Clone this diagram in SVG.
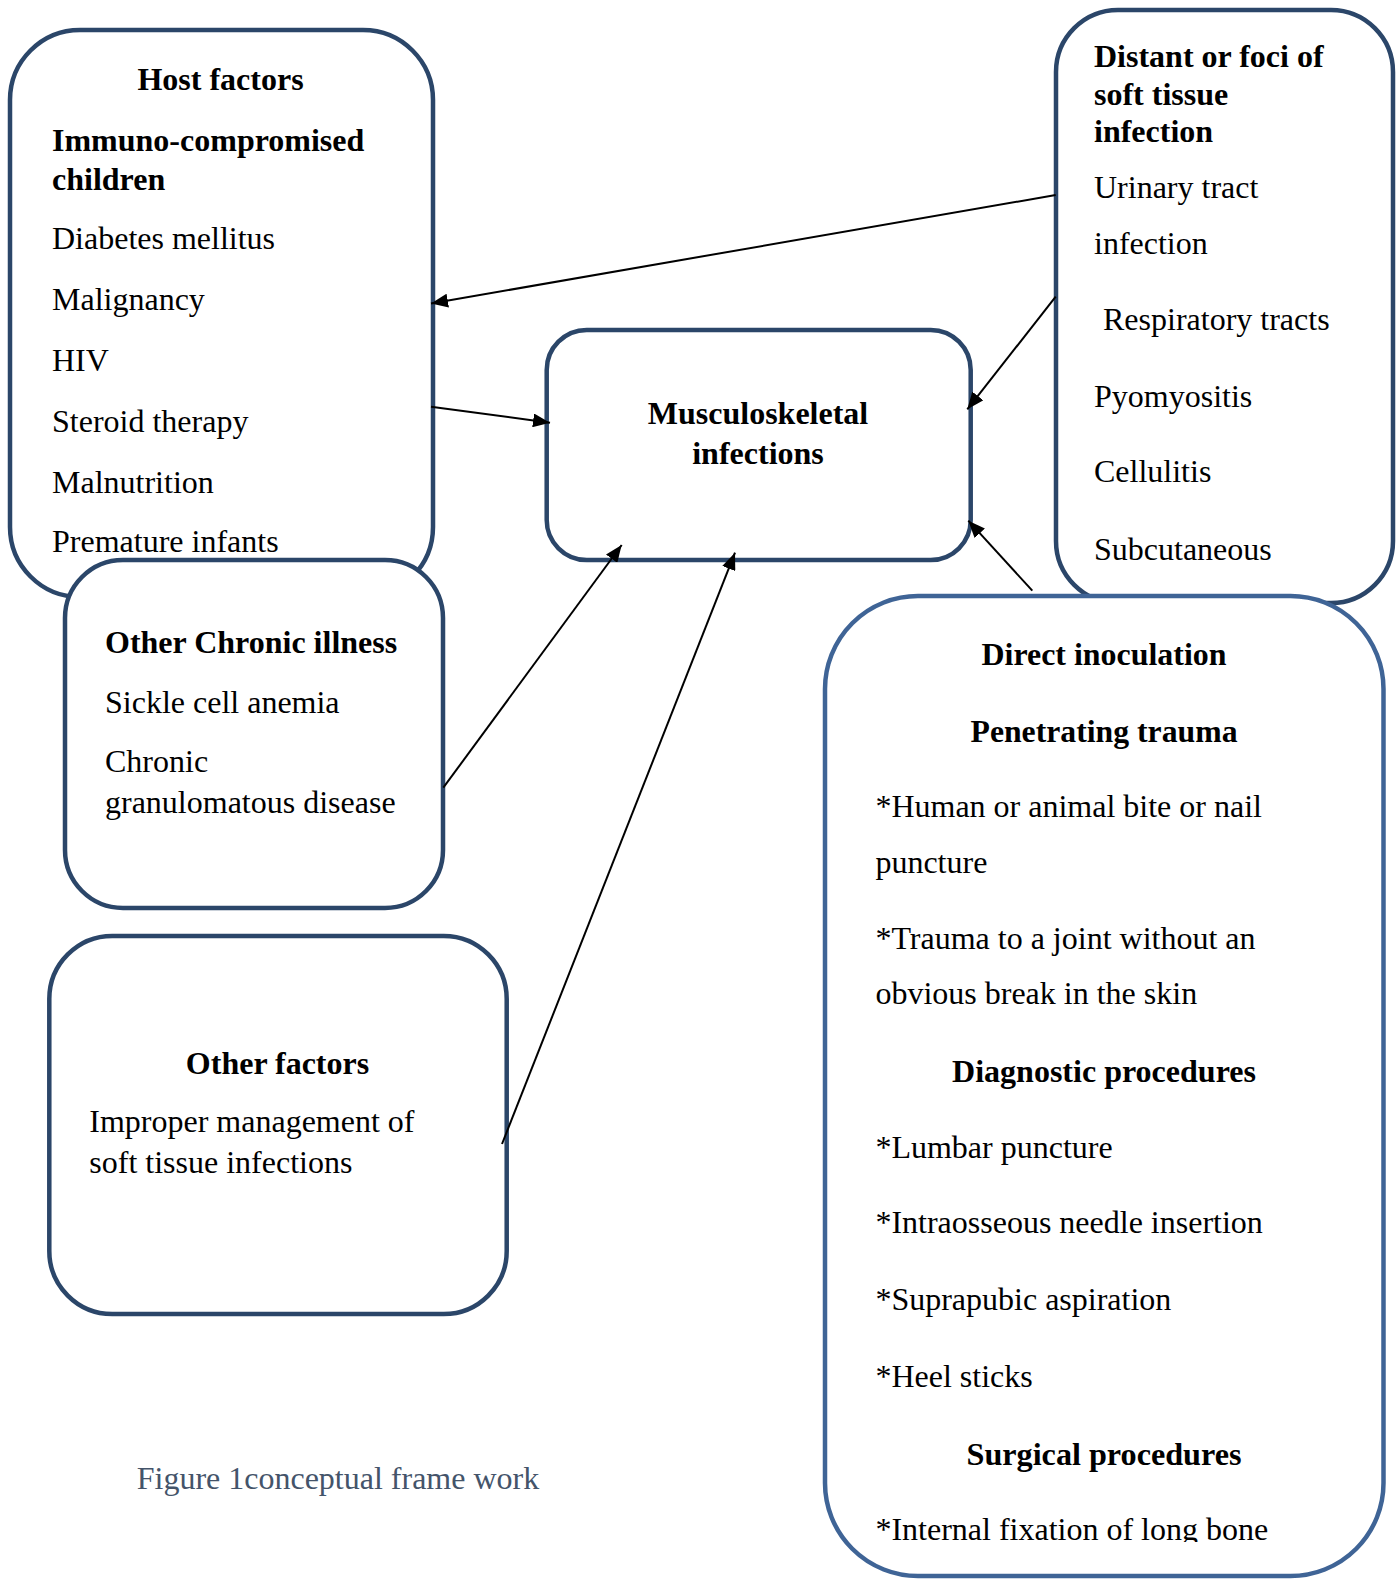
<svg xmlns="http://www.w3.org/2000/svg" width="1396" height="1579" viewBox="0 0 1396 1579">
<style>
.box{fill:#fff;stroke:#2b4669;stroke-width:4.5}
.box2{fill:#fff;stroke:#3f6496;stroke-width:4.5}
text{font-family:"Liberation Serif","Times New Roman",serif;font-size:32px;fill:#000}
.b{font-weight:bold}
.m{text-anchor:middle}
.cap{fill:#44546a}
.con{stroke:#000;stroke-width:2;fill:none}
</style>
<defs>
<marker id="arr" markerUnits="userSpaceOnUse" markerWidth="18" markerHeight="14" refX="17" refY="7" orient="auto">
<path d="M0,0 L17,7 L0,14 z" fill="#000"/>
</marker>
<clipPath id="clipLast"><rect x="820" y="1500" width="560" height="42"/></clipPath>
</defs>
<rect width="1396" height="1579" fill="#fff"/>
<g id="host-factors">
<rect class="box" x="10" y="30" width="423" height="567" rx="70"/>
<text class="b m" x="220.5" y="90">Host factors</text>
<text class="b" x="52" y="151">Immuno-compromised</text>
<text class="b" x="52" y="190">children</text>
<text x="52" y="249">Diabetes mellitus</text>
<text x="52" y="310">Malignancy</text>
<text x="52" y="371">HIV</text>
<text x="52" y="432">Steroid therapy</text>
<text x="52" y="493">Malnutrition</text>
<text x="52" y="552">Premature infants</text>
</g>
<g id="other-chronic-illness">
<rect class="box" x="65" y="560" width="378" height="348" rx="58"/>
<text class="b" x="105" y="653">Other Chronic illness</text>
<text x="105" y="713">Sickle cell anemia</text>
<text x="105" y="772">Chronic</text>
<text x="105" y="813">granulomatous disease</text>
</g>
<g id="distant-foci">
<rect class="box" x="1056" y="10" width="337" height="593" rx="62"/>
<text class="b" x="1094" y="67">Distant or foci of</text>
<text class="b" x="1094" y="105">soft tissue</text>
<text class="b" x="1094" y="142">infection</text>
<text x="1094" y="198">Urinary tract</text>
<text x="1094" y="254">infection</text>
<text x="1103" y="330">Respiratory tracts</text>
<text x="1094" y="407">Pyomyositis</text>
<text x="1094" y="482">Cellulitis</text>
<text x="1094" y="560">Subcutaneous</text>
</g>
<g id="direct-inoculation">
<rect class="box2" x="825" y="596" width="558.5" height="980" rx="93"/>
<text class="b m" x="1104" y="665" textLength="245" lengthAdjust="spacingAndGlyphs">Direct inoculation</text>
<text class="b m" x="1104" y="742" textLength="267" lengthAdjust="spacingAndGlyphs">Penetrating trauma</text>
<text x="875.4" y="817">*Human or animal bite or nail</text>
<text x="875.4" y="873">puncture</text>
<text x="875.4" y="949">*Trauma to a joint without an</text>
<text x="875.4" y="1004">obvious break in the skin</text>
<text class="b m" x="1104" y="1082" textLength="304" lengthAdjust="spacingAndGlyphs">Diagnostic procedures</text>
<text x="875.4" y="1158">*Lumbar puncture</text>
<text x="875.4" y="1233">*Intraosseous needle insertion</text>
<text x="875.4" y="1310">*Suprapubic aspiration</text>
<text x="875.4" y="1387">*Heel sticks</text>
<text class="b m" x="1104" y="1465" textLength="275" lengthAdjust="spacingAndGlyphs">Surgical procedures</text>
<text x="875.4" y="1540" clip-path="url(#clipLast)">*Internal fixation of long bone</text>
</g>
<g id="musculoskeletal-infections">
<rect class="box" x="546.7" y="330" width="424" height="230" rx="40"/>
<text class="b m" x="758" y="424">Musculoskeletal</text>
<text class="b m" x="758" y="464">infections</text>
</g>
<g id="other-factors">
<rect class="box" x="49.3" y="936" width="457.4" height="378" rx="63"/>
<text class="b m" x="277.5" y="1074">Other factors</text>
<text x="89.3" y="1132">Improper management of</text>
<text x="89.3" y="1173">soft tissue infections</text>
</g>
<g id="caption">
<text class="cap" x="136.7" y="1489">Figure 1conceptual frame work</text>
</g>
<g id="connectors">
<line class="con" x1="1055.7" y1="195" x2="431" y2="303.5" marker-end="url(#arr)"/>
<line class="con" x1="431" y1="406.7" x2="550" y2="422.7" marker-end="url(#arr)"/>
<line class="con" x1="1055.7" y1="296.7" x2="967.3" y2="409.3" marker-end="url(#arr)"/>
<line class="con" x1="1032.3" y1="590.7" x2="968.3" y2="520.7" marker-end="url(#arr)"/>
<line class="con" x1="443.3" y1="787.7" x2="621.7" y2="545" marker-end="url(#arr)"/>
<line class="con" x1="502" y1="1144" x2="735" y2="552.7" marker-end="url(#arr)"/>
</g>
</svg>
